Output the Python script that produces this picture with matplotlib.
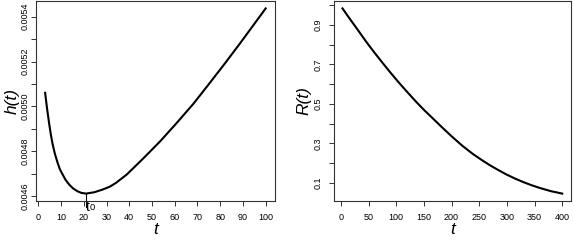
import numpy as np
import matplotlib
matplotlib.use("Agg")
import matplotlib.pyplot as plt
from matplotlib.ticker import FixedLocator, FormatStrFormatter

plt.rcParams['font.family'] = ['Liberation Sans', 'DejaVu Sans']

# hazard curve h(t)
t_h = [3, 3.8, 4.8, 5.5, 6.3, 7.3, 8.5, 9.5, 10.7, 12, 13.6, 15.3, 17.3,
       19, 21.0, 24.6, 28.3, 31.5, 34.2, 38.9, 46.2, 53.5, 60.9, 68.2,
       74.1, 81.4, 88.7, 96.1, 100]
h = [0.005061, 0.004995, 0.004922, 0.004876, 0.004832, 0.004789, 0.004749,
     0.004720, 0.004697, 0.004673, 0.004652, 0.004635, 0.004622, 0.004615,
     0.004612, 0.004618, 0.004630, 0.004643, 0.004660, 0.004697, 0.004769,
     0.004844, 0.004927, 0.005012, 0.005088, 0.005183, 0.005281, 0.005383,
     0.005437]

# reliability curve R(t)
t_R = [3, 12, 21.7, 33, 45.7, 60, 75.8, 90, 106, 120, 135.9, 150, 166, 183,
       200.9, 220, 238.8, 254, 269, 284, 299, 314, 329, 344, 359, 370, 380,
       390, 400]
R = [0.983, 0.947, 0.909, 0.865, 0.815, 0.762, 0.706, 0.657, 0.604, 0.560,
     0.511, 0.470, 0.427, 0.381, 0.334, 0.287, 0.246, 0.217, 0.190, 0.166,
     0.143, 0.123, 0.105, 0.089, 0.075, 0.066, 0.058, 0.052, 0.046]

h_xticks = list(range(0, 101, 10))
h_yticks = [0.0046, 0.0048, 0.0050, 0.0052, 0.0054]
h_yminor = [0.0047, 0.0049, 0.0051, 0.0053]
R_xticks = list(range(0, 401, 50))
R_yticks = [0.1, 0.3, 0.5, 0.7, 0.9]
R_yminor = [0.2, 0.4, 0.6, 0.8, 1.0]

fig = plt.figure(figsize=(5.74, 2.4), dpi=100)
ax1 = fig.add_axes([36.3 / 574, 39 / 240, 238.2 / 574, 200 / 240])
ax2 = fig.add_axes([333.7 / 574, 39 / 240, 237.3 / 574, 200 / 240])

lab_fs = 12.5
tick_fs = 6.5

def style(ax, ypad):
    ax.margins(x=0.04, y=0.04)
    for s in ax.spines.values():
        s.set_linewidth(0.8)
        s.set_color('#333333')
    ax.tick_params(which='both', direction='out', length=3.3, width=0.7,
                   color='#333333', labelsize=tick_fs)
    ax.tick_params(axis='x', pad=5)
    ax.tick_params(axis='y', pad=ypad, labelrotation=90)
    for lb in ax.get_yticklabels():
        lb.set_va('center')

ax1.plot(t_h, h, color='black', lw=1.5)
ax1.xaxis.set_major_locator(FixedLocator(h_xticks))
ax1.yaxis.set_major_locator(FixedLocator(h_yticks))
ax1.yaxis.set_minor_locator(FixedLocator(h_yminor))
ax1.yaxis.set_major_formatter(FormatStrFormatter('%.4f'))
style(ax1, 1.5)
ax1.set_xlabel('t', fontsize=lab_fs, fontstyle='italic', va='center')
ax1.xaxis.set_label_coords(0.5, -0.145)
ax1.set_ylabel('h(t)', fontsize=lab_fs, fontstyle='italic', va='center')
ax1.yaxis.set_label_coords(-0.102, 0.5)

# mark the minimum t0
i0 = int(np.argmin(h))
t0 = t_h[i0]
y0, y1 = ax1.get_ylim()
yr = y1 - y0
ax1.plot([t0, t0], [h[i0], y0 - 0.028 * yr], color='black', lw=0.8,
         clip_on=False, scalex=False, scaley=False)
ax1.set_ylim(y0, y1)
ax1.text(t0 - 0.3, y0 + 0.006 * yr, 't', fontsize=10, ha='left', va='top')
ax1.text(t0 + 1.4, y0 - 0.012 * yr, '0', fontsize=6.8, ha='left', va='top')

ax2.plot(t_R, R, color='black', lw=1.5)
ax2.xaxis.set_major_locator(FixedLocator(R_xticks))
ax2.yaxis.set_major_locator(FixedLocator(R_yticks))
ax2.yaxis.set_minor_locator(FixedLocator(R_yminor))
ax2.yaxis.set_major_formatter(FormatStrFormatter('%.1f'))
style(ax2, 4.5)
ax2.set_xlabel('t', fontsize=lab_fs, fontstyle='italic', va='center')
ax2.xaxis.set_label_coords(0.5, -0.145)
ax2.set_ylabel('R(t)', fontsize=lab_fs, fontstyle='italic', va='center')
ax2.yaxis.set_label_coords(-0.125, 0.5)

fig.savefig('out.png', dpi=100)
